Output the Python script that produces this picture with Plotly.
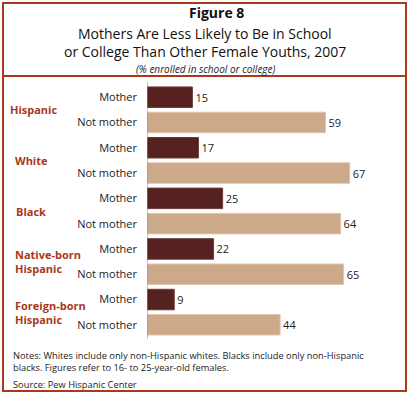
import plotly.graph_objects as go

groups = ["Hispanic", "White", "Black", "Native-born<br>Hispanic", "Foreign-born<br>Hispanic"]
mother = [15, 17, 25, 22, 9]
not_mother = [59, 67, 64, 65, 44]
row_labels = ["Mother", "Not mother"]

DARK = "#56221f"
LIGHT = "#cca989"
BRICK = "#a8391a"
FONT = "Open Sans"

L, R, T, B = 147, 21, 82, 54
W, H = 410, 394
pw, ph = W - L - R, H - T - B

def px(x):
    return (x - L) / pw

def py(y):
    return (H - B - y) / ph

y_m = [2 * i for i in range(len(groups))]
y_n = [2 * i + 1 for i in range(len(groups))]

fig = go.Figure()
fig.add_trace(go.Bar(
    x=mother, y=y_m, orientation="h", width=0.81,
    marker=dict(color=DARK, line=dict(color="#6a3a35", width=1)),
    text=[str(v) for v in mother], textposition="outside",
    textfont=dict(family=FONT, size=11, color="#222"), cliponaxis=False,
))
fig.add_trace(go.Bar(
    x=not_mother, y=y_n, orientation="h", width=0.81,
    marker=dict(color=LIGHT, line=dict(color="#e6c3ad", width=1)),
    text=[str(v) for v in not_mother], textposition="outside",
    textfont=dict(family=FONT, size=11, color="#222"), cliponaxis=False,
))

tickvals = list(range(2 * len(groups)))
ticktext = [row_labels[i % 2] for i in tickvals]

fig.update_layout(
    width=W, height=H, margin=dict(l=L, r=R, t=T, b=B),
    plot_bgcolor="white", paper_bgcolor="white", showlegend=False,
    xaxis=dict(range=[0, 80], visible=False),
    yaxis=dict(range=[9.6, -0.6], tickvals=tickvals, ticktext=ticktext,
               tickfont=dict(family=FONT, size=11, color="#222"),
               showgrid=False, zeroline=False, ticks="", ticklabelstandoff=9,
               showline=False),
    font=dict(family=FONT),
)

# axis line
fig.add_shape(type="line", xref="x", yref="paper", x0=0, x1=0,
              y0=py(339), y1=py(82), line=dict(color="#888", width=1))

# group labels
gx = [8, 13, 14, 13, 13]
for i, g in enumerate(groups):
    fig.add_annotation(text="<b>" + g + "</b>", xref="paper", yref="y",
                       x=px(gx[i]), y=2 * i + 0.5, xanchor="left", yanchor="middle",
                       showarrow=False, align="left",
                       font=dict(family=FONT, size=11, color=BRICK))

# titles
fig.add_annotation(text="<b>Figure 8</b>", xref="paper", yref="paper",
                   x=px(216), y=py(13), xanchor="center", yanchor="middle", showarrow=False,
                   font=dict(family=FONT, size=14, color="#111"))
fig.add_annotation(text="Mothers Are Less Likely to Be in School", xref="paper", yref="paper",
                   x=px(205), y=py(33), xanchor="center", yanchor="middle", showarrow=False,
                   font=dict(family=FONT, size=14, color="#111"))
fig.add_annotation(text="or College Than Other Female Youths, 2007", xref="paper", yref="paper",
                   x=px(205), y=py(51), xanchor="center", yanchor="middle", showarrow=False,
                   font=dict(family=FONT, size=14, color="#111"))
fig.add_annotation(text="<i>(% enrolled in school or college)</i>", xref="paper", yref="paper",
                   x=px(206), y=py(69), xanchor="center", yanchor="middle", showarrow=False,
                   font=dict(family=FONT, size=10, color="#222"))

# notes
fig.add_annotation(text="Notes: Whites include only non-Hispanic whites. Blacks include only non-Hispanic<br>blacks. Figures refer to 16- to 25-year-old females.",
                   xref="paper", yref="paper", x=px(11), y=py(347), xanchor="left", yanchor="top",
                   showarrow=False, align="left",
                   font=dict(family=FONT, size=9.3, color="#222"))
fig.add_annotation(text="Source: Pew Hispanic Center",
                   xref="paper", yref="paper", x=px(11), y=py(376), xanchor="left", yanchor="top",
                   showarrow=False, align="left",
                   font=dict(family=FONT, size=9.3, color="#222"))

# frame
fig.add_shape(type="rect", xref="paper", yref="paper", x0=px(3), x1=px(406), y0=py(391), y1=py(3),
              line=dict(color=BRICK, width=2))
fig.add_shape(type="line", xref="paper", yref="paper", x0=px(3), x1=px(406), y0=py(76), y1=py(76),
              line=dict(color=BRICK, width=2))

fig.write_html("out.html", config={"displayModeBar": False},
               post_script="document.body.style.margin='0';document.body.style.overflow='hidden';")
